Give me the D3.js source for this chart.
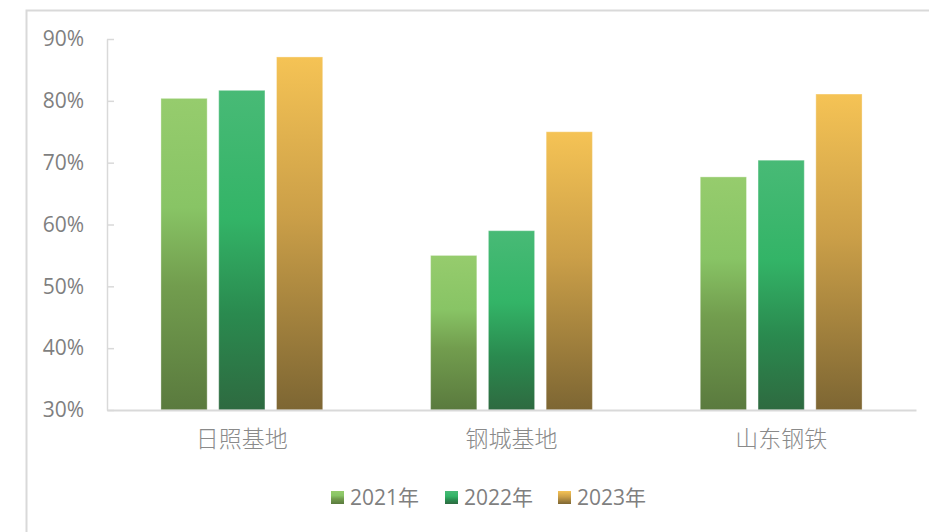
<!DOCTYPE html>
<html><head><meta charset="utf-8">
<script src="https://cdn.jsdelivr.net/npm/d3@7"></script>
<style>body{margin:0;background:#fff;}svg{display:block;font-family:"Open Sans","Noto Sans CJK SC",sans-serif;}</style>
</head><body><svg id="c" width="929" height="532"></svg>
<script>
const categories = ["日照基地", "钢城基地", "山东钢铁"];
const seriesNames = ["2021年", "2022年", "2023年"];
const v2021 = [80.4, 55.0, 67.7];
const v2022 = [81.7, 59.0, 70.4];
const v2023 = [87.1, 75.0, 81.1];
const yTicks = [30, 40, 50, 60, 70, 80, 90];

const series = [v2021, v2022, v2023];
const stops = [
  [["0%","#96CC6D"],["35%","#88C465"],["60%","#729D4E"],["100%","#5A7A3E"]],
  [["0%","#48BA76"],["40%","#33B467"],["70%","#2A8A4F"],["100%","#2E6A40"]],
  [["0%","#F5C355"],["45%","#CB9F48"],["100%","#7D6633"]]
];
const svg = d3.select("#c");
const defs = svg.append("defs");
stops.forEach((s,i)=>{
  const g = defs.append("linearGradient").attr("id","g"+i).attr("x1",0).attr("y1",0).attr("x2",0).attr("y2",1);
  s.forEach(([o,c])=>g.append("stop").attr("offset",o).attr("stop-color",c));
});
// outer frame
svg.append("rect").attr("x",26.5).attr("y",10.5).attr("width",1000).attr("height",1000)
  .attr("fill","none").attr("stroke","#d9d9d9").attr("stroke-width",2);

const pL=107, pR=916, pT=39, pB=410;
const x0 = d3.scaleBand().domain(categories).range([pL,pR]).paddingInner(0.4).paddingOuter(0.2);
const y = d3.scaleLinear().domain([30,90]).range([pB,pT]);
const x1 = d3.scaleBand().domain(seriesNames).range([0,x0.bandwidth()]).paddingInner(0.2);

// y axis
const ya = svg.append("g").attr("transform",`translate(${pL},0)`)
  .call(d3.axisLeft(y).tickValues(yTicks).tickFormat(d=>d+"%").tickSizeInner(-7).tickSizeOuter(0).tickPadding(23));
ya.select(".domain").attr("stroke","#d9d9d9").attr("stroke-width",1.5);
ya.selectAll(".tick line").attr("stroke","#d9d9d9").attr("stroke-width",1.5);
ya.selectAll("text").attr("fill","#7f7f7f").attr("font-size",21).attr("font-family","'Open Sans',sans-serif");

// bars
categories.forEach((c,ci)=>{
  series.forEach((s,si)=>{
    svg.append("rect")
      .attr("x",x0(c)+x1(seriesNames[si]))
      .attr("y",y(s[ci]))
      .attr("width",x1.bandwidth())
      .attr("height",y(30)-y(s[ci]))
      .attr("fill",`url(#g${si})`)
      .attr("stroke","rgba(255,255,255,0.35)").attr("stroke-width",1);
  });
});

// x axis
const xa = svg.append("g").attr("transform",`translate(0,${pB})`)
  .call(d3.axisBottom(x0).tickSize(0).tickPadding(21));
xa.select(".domain").attr("stroke","#d9d9d9").attr("stroke-width",2);
xa.selectAll("text").attr("fill","#8a8a8a").attr("font-size",23).attr("font-family","'Noto Sans CJK SC',sans-serif").attr("font-weight",300);

// legend
const legX = [331, 445, 558];
seriesNames.forEach((n,i)=>{
  const g = svg.append("g").attr("transform",`translate(${legX[i]},497)`);
  g.append("rect").attr("x",0).attr("y",-6).attr("width",13).attr("height",13).attr("fill",`url(#g${i})`);
  g.append("text").attr("x",19).attr("y",0).attr("dy","0.36em").attr("fill","#7f7f7f").attr("font-size",21)
    .attr("font-family","'Open Sans','Noto Sans CJK SC',sans-serif").text(n);
});
</script></body></html>
